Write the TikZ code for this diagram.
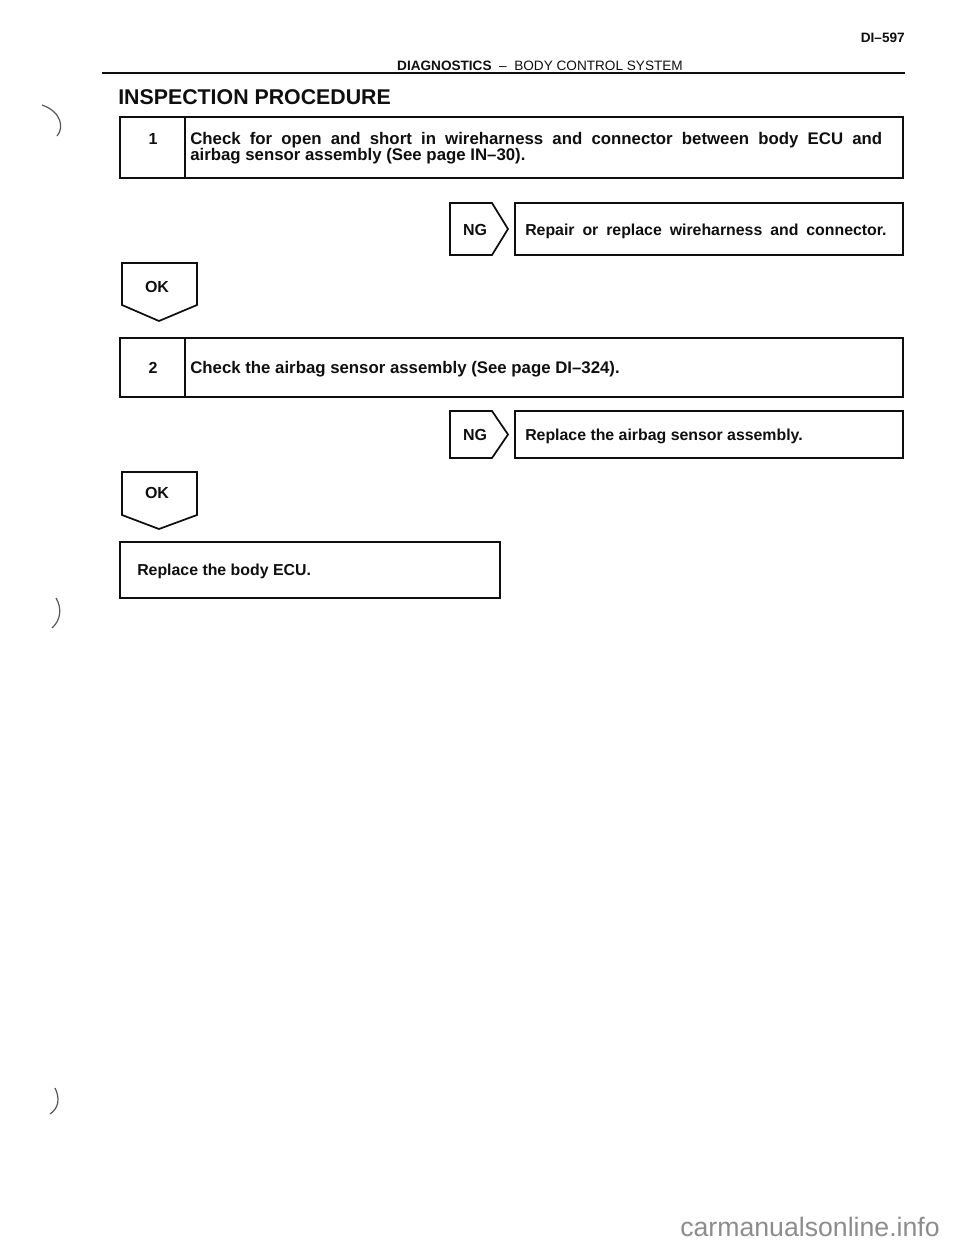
\documentclass[tikz,border=0pt]{standalone}
\usepackage{fontspec}
\setmainfont{Liberation Sans}
\usetikzlibrary{positioning}
\definecolor{encre}{RGB}{15,15,15}
\definecolor{filigrane}{RGB}{140,140,140}
\tikzset{
  cadre/.style={encre,line width=1.3pt,line join=miter},
  txt/.style={encre,inner sep=0pt,anchor=base west,font=\fontsize{12.6}{14}\selectfont\bfseries},
  restxt/.style={txt,font=\fontsize{11.9}{14}\selectfont\bfseries},
  tagtxt/.style={encre,inner sep=0pt,anchor=base,font=\fontsize{12}{14}\selectfont\bfseries},
  trou/.style={encre!70,line width=0.9pt}
}
\begin{document}
\begin{tikzpicture}[x=0.75pt,y=-0.75pt]
\useasboundingbox (0,0) rectangle (960,1250);
% en-tete
\node[txt,anchor=base east,font=\fontsize{10.2}{12}\selectfont\bfseries] (page) at (905,42) {DI--597};
\node[txt,anchor=base,font=\fontsize{10.2}{12}\selectfont] (chapitre) at (540,70) {\textbf{DIAGNOSTICS} \ -- \ BODY CONTROL SYSTEM};
\draw[encre,line width=1.2pt] (102,73) -- (905,73);
\node[txt,font=\fontsize{16}{19}\selectfont\bfseries] (titre) at (118,104) {INSPECTION PROCEDURE};

% cadres des etapes
\foreach \t/\b in {117/178,338/397}
  \draw[cadre] (120,\t) rectangle (903,\b) (185,\t) -- (185,\b);
\node[tagtxt] (num1) at (153,144) {1};
\node[txt] (etape1a) at (190,144) {\makebox[519pt][s]{Check for open and short in wireharness and connector between body ECU and}};
\node[txt] (etape1b) at (190,160) {airbag sensor assembly (See page IN--30).};
\node[tagtxt] (num2) at (153,373) {2};
\node[txt] (etape2) at (190,373) {Check the airbag sensor assembly (See page DI--324).};

% fleches NG et reparations
\foreach \t/\b in {203/255,411/458}
  \draw[cadre] (450,\b) -- (450,\t) -- (492,\t) -- (508,{(\t+\b)/2}) -- (492,\b) -- cycle
    (515,\t) rectangle (903,\b);
\node[tagtxt] (ng1) at (475,235) {NG};
\node[restxt] (repar1) at (525,235) {\makebox[271pt][s]{Repair or replace wireharness and connector.}};
\node[tagtxt] (ng2) at (475,440) {NG};
\node[restxt] (repar2) at (525,440) {Replace the airbag sensor assembly.};

% fleches OK
\foreach \t/\s/\p in {263/305/321,472/515/529}
  \draw[cadre] (122,\t) -- (197,\t) -- (197,\s) -- (159,\p) -- (122,\s) -- cycle;
\node[tagtxt] (ok1) at (157,292) {OK};
\node[tagtxt] (ok2) at (157,498) {OK};

% fin
\draw[cadre] (120,542) rectangle (500,598);
\node[restxt] (fin) at (137,575) {Replace the body ECU.};

% traces des perforations
\draw[trou] (42,105) .. controls (62,112) and (64,128) .. (57,136);
\draw[trou] (56,598) .. controls (62,608) and (61,620) .. (52,628);
\draw[trou] (55,1088) .. controls (60,1098) and (59,1108) .. (50,1114);

\node[filigrane,inner sep=0pt,anchor=base east,font=\fontsize{20}{23}\selectfont] (site) at (940,1236) {carmanualsonline.info};
\end{tikzpicture}
\end{document}
